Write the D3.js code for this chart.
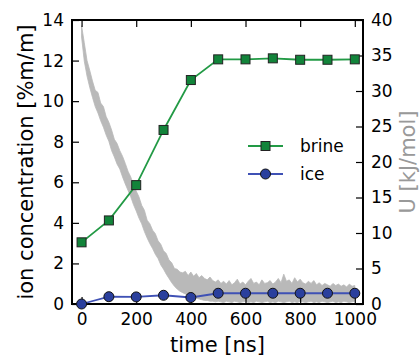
<!DOCTYPE html>
<html>
<head>
<meta charset="utf-8">
<script src="https://cdn.jsdelivr.net/npm/d3@7"></script>
<style>
  html, body { margin: 0; padding: 0; background: #fff; }
  svg { display: block; font-family: "DejaVu Sans", sans-serif; }
</style>
</head>
<body>
<div id="chart"></div>
<script>
// sampled times of the concentration series (ns)
const times = [0, 100, 200, 300, 400, 500, 600, 700, 800, 900, 1000];
const brine = [3.04, 4.12, 5.86, 8.58, 11.04, 12.06, 12.06, 12.11, 12.04, 12.04, 12.06];
const ice = [0.0, 0.36, 0.35, 0.43, 0.32, 0.53, 0.53, 0.53, 0.53, 0.53, 0.53];

// energy trace (kJ/mol), read as a noisy band every 10 ns
const uTimes = d3.range(0, 1001, 10);
const uLow = [37.6, 34.2, 32.1, 30.5, 29.1, 27.8, 26.9, 25.8, 24.9, 23.8,
  22.9, 21.6, 20.7, 19.7, 19.0, 17.9, 16.9, 16.0, 15.1, 14.0,
  13.1, 12.1, 11.3, 10.2, 9.3, 8.5, 7.8, 7.0, 6.4, 5.5,
  4.9, 4.2, 3.6, 3.0, 2.5, 2.1, 1.8, 1.6, 1.4, 1.2,
  1.1, 0.9, 0.8, 0.7, 0.6, 0.5, 0.5, 0.4, 0.4, 0.3,
  0.4, 0.3, 0.2, 0.4, 0.3, 0.2, 0.4, 0.3, 0.2, 0.3,
  0.4, 0.2, 0.3, 0.2, 0.4, 0.3, 0.2, 0.3, 0.4, 0.2,
  0.3, 0.2, 0.4, 0.3, 0.2, 0.3, 0.4, 0.2, 0.3, 0.2,
  0.4, 0.3, 0.2, 0.3, 0.4, 0.2, 0.3, 0.2, 0.4, 0.3,
  0.2, 0.3, 0.4, 0.2, 0.3, 0.2, 0.4, 0.3, 0.2, 0.3, 0.4];
const uHigh = [39.2, 36.8, 34.3, 32.9, 31.4, 30.1, 29.8, 28.3, 27.8, 26.4,
  25.6, 24.5, 23.2, 22.6, 21.6, 20.8, 19.8, 18.7, 17.9, 16.8,
  15.9, 15.1, 13.9, 13.2, 11.8, 11.3, 10.4, 9.9, 8.9, 8.4,
  7.5, 7.1, 6.2, 5.8, 5.0, 4.9, 4.5, 4.4, 4.6, 4.0,
  4.5, 3.9, 4.3, 3.7, 4.0, 3.6, 3.4, 3.8, 3.3, 3.1,
  3.4, 2.9, 3.2, 2.8, 3.3, 2.7, 3.0, 3.5, 2.8, 3.1,
  2.7, 3.2, 3.6, 2.9, 3.1, 2.7, 3.4, 2.9, 3.0, 3.3,
  2.8, 3.1, 3.6, 3.0, 4.2, 3.2, 3.4, 2.9, 3.7, 3.1,
  3.5, 3.0, 2.8, 3.2, 2.9, 3.3, 2.7, 3.0, 2.6, 2.9,
  2.7, 2.5, 2.9, 2.6, 2.8, 2.5, 2.7, 2.4, 2.8, 2.5, 2.6];

const leftTicks = [0, 2, 4, 6, 8, 10, 12, 14];
const rightTicks = [0, 5, 10, 15, 20, 25, 30, 35, 40];
const xTicks = [0, 200, 400, 600, 800, 1000];

const width = 420, height = 356;
const plotL = 72, plotR = 363, plotT = 20, plotB = 304;

const svg = d3.select("#chart").append("svg")
  .attr("width", width)
  .attr("height", height);

const x = d3.scaleLinear().domain([-35, 1030]).range([plotL, plotR]);
const y = d3.scaleLinear().domain([0, 14]).range([plotB, plotT]);
const yU = d3.scaleLinear().domain([0, 40]).range([plotB, plotT]);

// gray energy band, behind everything
const band = uTimes.map((t, i) => ({ t: t, lo: uLow[i], hi: uHigh[i] }));
svg.append("path")
  .datum(band)
  .attr("d", d3.area().x(d => x(d.t)).y0(d => yU(d.lo)).y1(d => yU(d.hi)))
  .attr("fill", "#b9b9b9")
  .attr("stroke", "#b9b9b9")
  .attr("stroke-width", 0.8);

// axes with inward ticks
function styleAxis(g) {
  g.select(".domain").remove();
  g.selectAll(".tick line").attr("stroke", "#000").attr("stroke-width", 1.2);
  g.selectAll(".tick text").attr("fill", "#000").style("font-size", "17px")
    .style("font-family", "DejaVu Sans, sans-serif");
}

svg.append("g")
  .attr("transform", `translate(${plotL},0)`)
  .call(d3.axisLeft(y).tickValues(leftTicks).tickSizeInner(-7).tickSizeOuter(0).tickPadding(8))
  .call(styleAxis);

svg.append("g")
  .attr("transform", `translate(${plotR},0)`)
  .call(d3.axisRight(yU).tickValues(rightTicks).tickSizeInner(-7).tickSizeOuter(0).tickPadding(8))
  .call(styleAxis);

svg.append("g")
  .attr("transform", `translate(0,${plotB})`)
  .call(d3.axisBottom(x).tickValues(xTicks).tickFormat(d3.format("d"))
    .tickSizeInner(-7).tickSizeOuter(0).tickPadding(9))
  .call(styleAxis);

svg.append("g")
  .attr("transform", `translate(0,${plotT})`)
  .call(d3.axisTop(x).tickValues(xTicks).tickSizeInner(-7).tickSizeOuter(0).tickFormat(""))
  .call(styleAxis);

// frame
svg.append("rect")
  .attr("x", plotL).attr("y", plotT)
  .attr("width", plotR - plotL).attr("height", plotB - plotT)
  .attr("fill", "none").attr("stroke", "#000").attr("stroke-width", 2);

// series
const series = [
  { name: "brine", values: brine, line: "#229a45", fill: "#12843a", shape: "square" },
  { name: "ice", values: ice, line: "#3f51b5", fill: "#2a3f9d", shape: "circle" }
];

const line = d3.line().x(d => x(d.t)).y(d => y(d.v));

function drawMarker(g, shape, fill) {
  if (shape === "square") {
    g.append("rect").attr("x", -4.5).attr("y", -4.5).attr("width", 9).attr("height", 9)
      .attr("fill", fill).attr("stroke", "#222").attr("stroke-width", 1);
  } else {
    g.append("circle").attr("r", 5)
      .attr("fill", fill).attr("stroke", "#111").attr("stroke-width", 1);
  }
}

series.forEach(s => {
  const pts = times.map((t, i) => ({ t: t, v: s.values[i] }));
  svg.append("path")
    .datum(pts)
    .attr("d", line)
    .attr("fill", "none")
    .attr("stroke", s.line)
    .attr("stroke-width", 1.8);
  pts.forEach(p => {
    const g = svg.append("g").attr("transform", `translate(${x(p.t)},${y(p.v)})`);
    drawMarker(g, s.shape, s.fill);
  });
});

// legend
const legend = svg.append("g").attr("transform", "translate(248,146)");
series.forEach((s, i) => {
  const row = legend.append("g").attr("transform", `translate(0,${i * 28})`);
  row.append("line").attr("x1", 0).attr("x2", 35).attr("y1", 0).attr("y2", 0)
    .attr("stroke", s.line).attr("stroke-width", 1.8);
  drawMarker(row.append("g").attr("transform", "translate(17.5,0)"), s.shape, s.fill);
  row.append("text").attr("x", 52).attr("y", 6).style("font-size", "17px")
    .text(s.name);
});

// axis titles
svg.append("text")
  .attr("transform", `translate(33,${(plotT + plotB) / 2}) rotate(-90)`)
  .attr("text-anchor", "middle")
  .style("font-size", "21px")
  .text("ion concentration [%m/m]");

svg.append("text")
  .attr("transform", `translate(415,${(plotT + plotB) / 2}) rotate(-90)`)
  .attr("text-anchor", "middle")
  .attr("fill", "#999")
  .style("font-size", "21px")
  .text("U [kJ/mol]");

svg.append("text")
  .attr("x", (plotL + plotR) / 2)
  .attr("y", 352)
  .attr("text-anchor", "middle")
  .style("font-size", "21px")
  .text("time [ns]");
</script>
</body>
</html>
